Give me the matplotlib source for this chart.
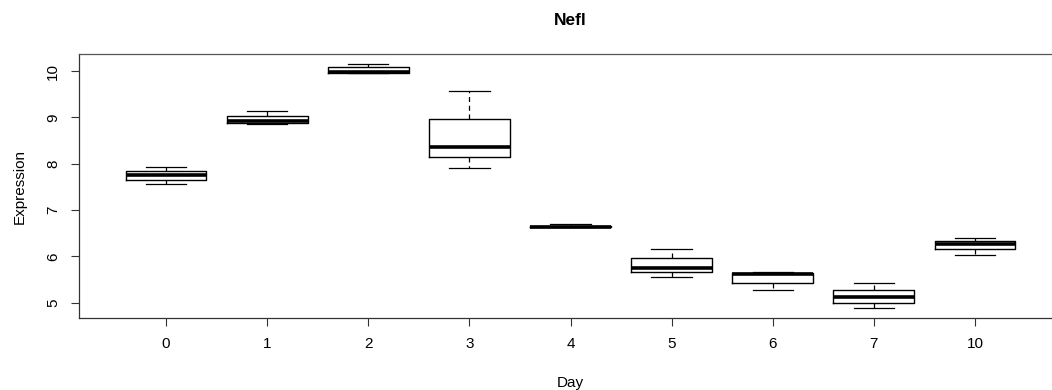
import matplotlib
matplotlib.use("Agg")
import matplotlib.pyplot as plt

plt.rcParams['font.family'] = ['Liberation Sans', 'DejaVu Sans']

days = ['0', '1', '2', '3', '4', '5', '6', '7', '10']
whislo = [7.56, 8.85, 9.97, 7.91, 6.63, 5.56, 5.28, 4.89, 6.02]
q1     = [7.65, 8.89, 9.97, 8.15, 6.63, 5.66, 5.43, 5.00, 6.15]
med    = [7.75, 8.92, 9.98, 8.36, 6.64, 5.76, 5.61, 5.12, 6.26]
q3     = [7.84, 9.03, 10.09, 8.96, 6.66, 5.97, 5.64, 5.28, 6.34]
whishi = [7.93, 9.15, 10.15, 9.57, 6.69, 6.17, 5.67, 5.42, 6.40]

stats = []
for i, d in enumerate(days):
  stats.append(dict(label=d, whislo=whislo[i], q1=q1[i], med=med[i],
                    q3=q3[i], whishi=whishi[i], fliers=[]))

fig = plt.figure(figsize=(10.52, 3.9), dpi=100)
ax = fig.add_axes([79/1052, 72/390, 983/1052, 264/390])

ax.bxp(stats, positions=range(1, len(days)+1), widths=0.8, showfliers=False,
       boxprops=dict(color='black', linewidth=1.0),
       whiskerprops=dict(color='black', linewidth=0.9, linestyle=(0, (4, 3))),
       capprops=dict(color='black', linewidth=0.9),
       medianprops=dict(color='black', linewidth=2.6, solid_capstyle='butt'))

ax.set_xlim(0.14, 9.86)
ax.set_ylim(4.67, 10.37)
ax.set_yticks([5, 6, 7, 8, 9, 10])
ax.set_xticks(range(1, len(days)+1))
ax.set_xticklabels(days)
for lbl in ax.get_yticklabels():
  lbl.set_rotation(90)
  lbl.set_va('center')

for s in ['left', 'bottom']:
  ax.spines[s].set_color('#333333')
  ax.spines[s].set_linewidth(0.9)
for s in ['top', 'right']:
  ax.spines[s].set_color('#555555')
  ax.spines[s].set_linewidth(0.9)

ax.tick_params(axis='both', labelsize=11, length=5.5, width=0.8,
               color='#333333', pad=8)

ax.set_title('Nefl', fontsize=12.5, fontweight='bold', pad=21)
ax.set_xlabel('Day', fontsize=11, labelpad=18)
ax.set_ylabel('Expression', fontsize=11, labelpad=14)

fig.savefig('out.png', dpi=100)
